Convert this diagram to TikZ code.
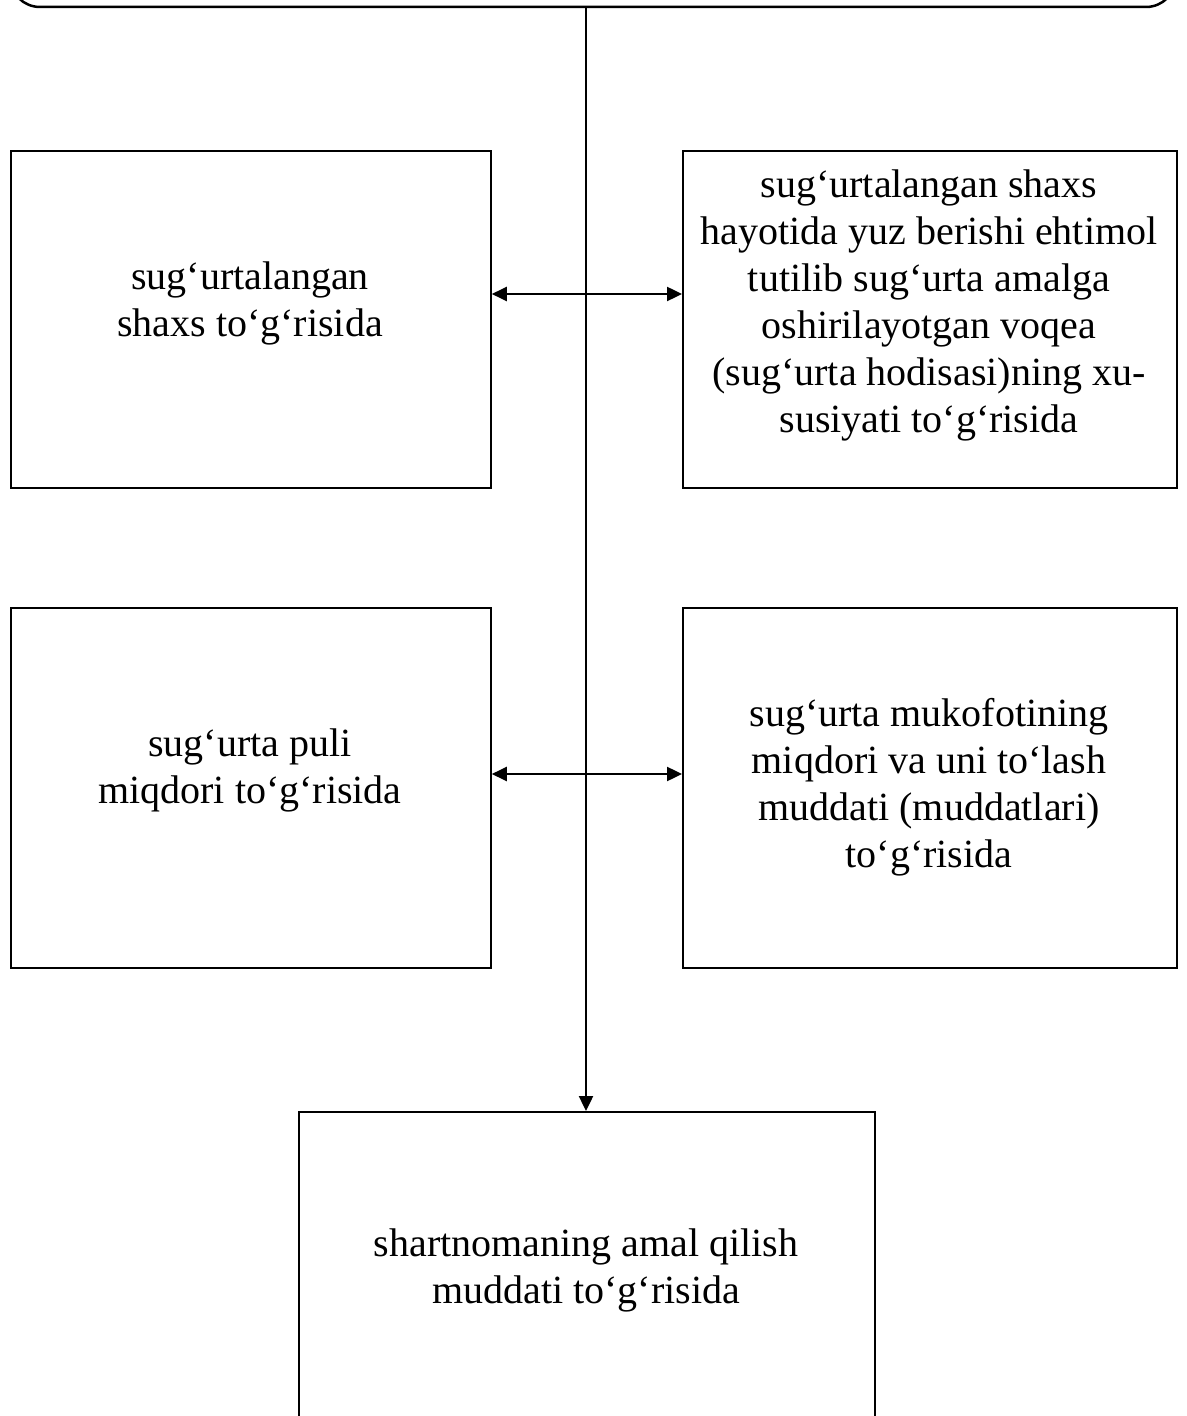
\documentclass[tikz,border=0pt]{standalone}
\usepackage{fontspec}
\setmainfont{Liberation Serif}
\usetikzlibrary{arrows.meta}
\begin{document}
\begin{tikzpicture}[x=0.6pt,y=-0.6pt,
  box/.style={draw,line width=1.1pt,inner sep=0pt,anchor=north west},
  txt/.style={align=center,font=\fontsize{24}{28.2}\selectfont,inner sep=0pt},
  conn/.style={line width=1.1pt,{Triangle[length=9pt,width=8.5pt]}-{Triangle[length=9pt,width=8.5pt]}},
  down/.style={line width=1.1pt,-{Triangle[length=9pt,width=8.5pt]}}]
\useasboundingbox (0,0) rectangle (1186,1416);
\clip (0,0) rectangle (1186,1416);
\draw[line width=1.5pt,rounded corners=18pt] (10,-60) rectangle (1176,7);
\coordinate (top) at (586,7);
\node[box,minimum width=480*0.6pt,minimum height=337*0.6pt] (b1) at (10,150) {};
\node[box,minimum width=494*0.6pt,minimum height=337*0.6pt] (b2) at (682,150) {};
\node[box,minimum width=480*0.6pt,minimum height=360*0.6pt] (b3) at (10,607) {};
\node[box,minimum width=494*0.6pt,minimum height=360*0.6pt] (b4) at (682,607) {};
\node[box,minimum width=576*0.6pt,minimum height=400*0.6pt] (b5) at (298,1111) {};
\node[txt] (t1) at (250,303) {sug‘urtalangan\\shaxs to‘g‘risida};
\node[txt] (t2) at (929,305) {sug‘urtalangan shaxs\\hayotida yuz berishi ehtimol\\tutilib sug‘urta amalga\\oshirilayotgan voqea\\(sug‘urta hodisasi)ning xu-\\susiyati to‘g‘risida};
\node[txt] (t3) at (250,770) {sug‘urta puli\\miqdori to‘g‘risida};
\node[txt] (t4) at (929,787) {sug‘urta mukofotining\\miqdori va uni to‘lash\\muddati (muddatlari)\\to‘g‘risida};
\node[txt] (t5) at (586,1270) {shartnomaning amal qilish\\muddati to‘g‘risida};
\draw[down] (top) -- (b5.north -| top);
\draw[conn] (b1.east |- 0,294) -- (b2.west |- 0,294);
\draw[conn] (b3.east |- 0,774) -- (b4.west |- 0,774);
\end{tikzpicture}
\end{document}
